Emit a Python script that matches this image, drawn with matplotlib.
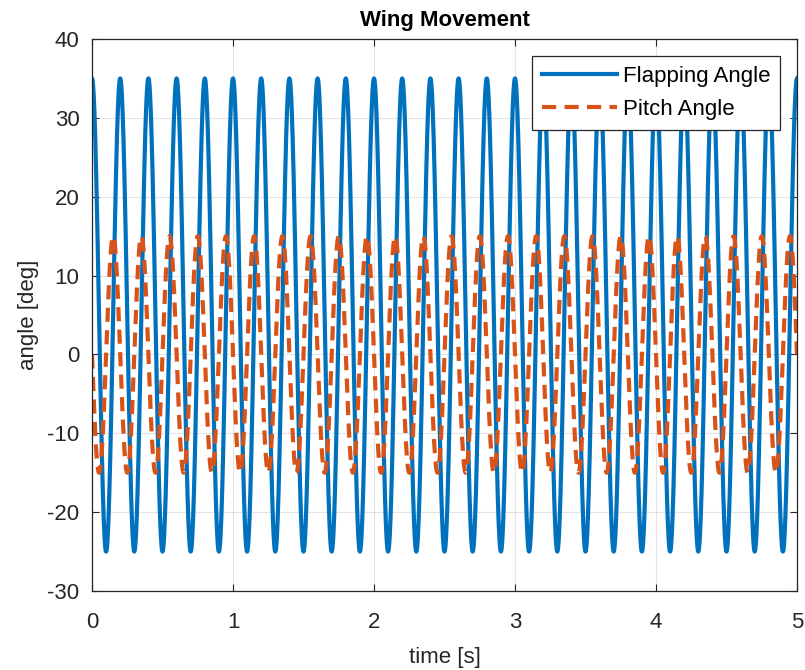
import numpy as np
import matplotlib.pyplot as plt

plt.rcParams['font.family'] = ['Liberation Sans', 'DejaVu Sans']
plt.rcParams['axes.unicode_minus'] = False

# wing kinematics: 5 Hz flapping, pitch leading by a quarter period
t_end = 5.0
freq = 5.0
flap_mean = 5.0
flap_amp = 30.0
pitch_amp = 15.0
pitch_phase = np.pi / 2

t = np.linspace(0, t_end, 5001)
flapping = flap_mean + flap_amp * np.cos(2 * np.pi * freq * t)
pitch = pitch_amp * np.cos(2 * np.pi * freq * t + pitch_phase)

x_ticks = [0, 1, 2, 3, 4, 5]
y_ticks = [-30, -20, -10, 0, 10, 20, 30, 40]

fig = plt.figure(figsize=(8.05, 6.7), dpi=100)
ax = fig.add_axes([92 / 805, 79 / 670, 705 / 805, 552 / 670])

ax.plot(t, flapping, color='#0072BD', lw=3, label='Flapping Angle')
ax.plot(t, pitch, color='#D95319', lw=3, dashes=(3.4, 2.0), label='Pitch Angle')

ax.set_xlim(0, 5)
ax.set_ylim(-30, 40)
ax.set_xticks(x_ticks)
ax.set_yticks(y_ticks)
ax.grid(True, color='#262626', alpha=0.12, lw=0.8)
ax.tick_params(direction='in', top=True, right=True, labelsize=16,
               colors='#262626', length=5)
ax.tick_params(axis='x', pad=15)
ax.tick_params(axis='y', pad=9)
for s in ax.spines.values():
    s.set_color('#262626')
    s.set_linewidth(0.9)

ax.set_title('Wing Movement', fontsize=16, fontweight='bold', pad=9.5)
ax.set_xlabel('time [s]', fontsize=16, color='#262626', labelpad=10)
ax.set_ylabel('angle [deg]', fontsize=16, color='#262626', labelpad=6)

leg = ax.legend(loc='upper right', fontsize=16, fancybox=False, framealpha=1,
                edgecolor='#262626', borderaxespad=0.75, handlelength=3.4,
                handletextpad=0.25, borderpad=0.45, labelspacing=0.55)
leg.get_frame().set_linewidth(0.9)

fig.savefig('out.png', dpi=100)
